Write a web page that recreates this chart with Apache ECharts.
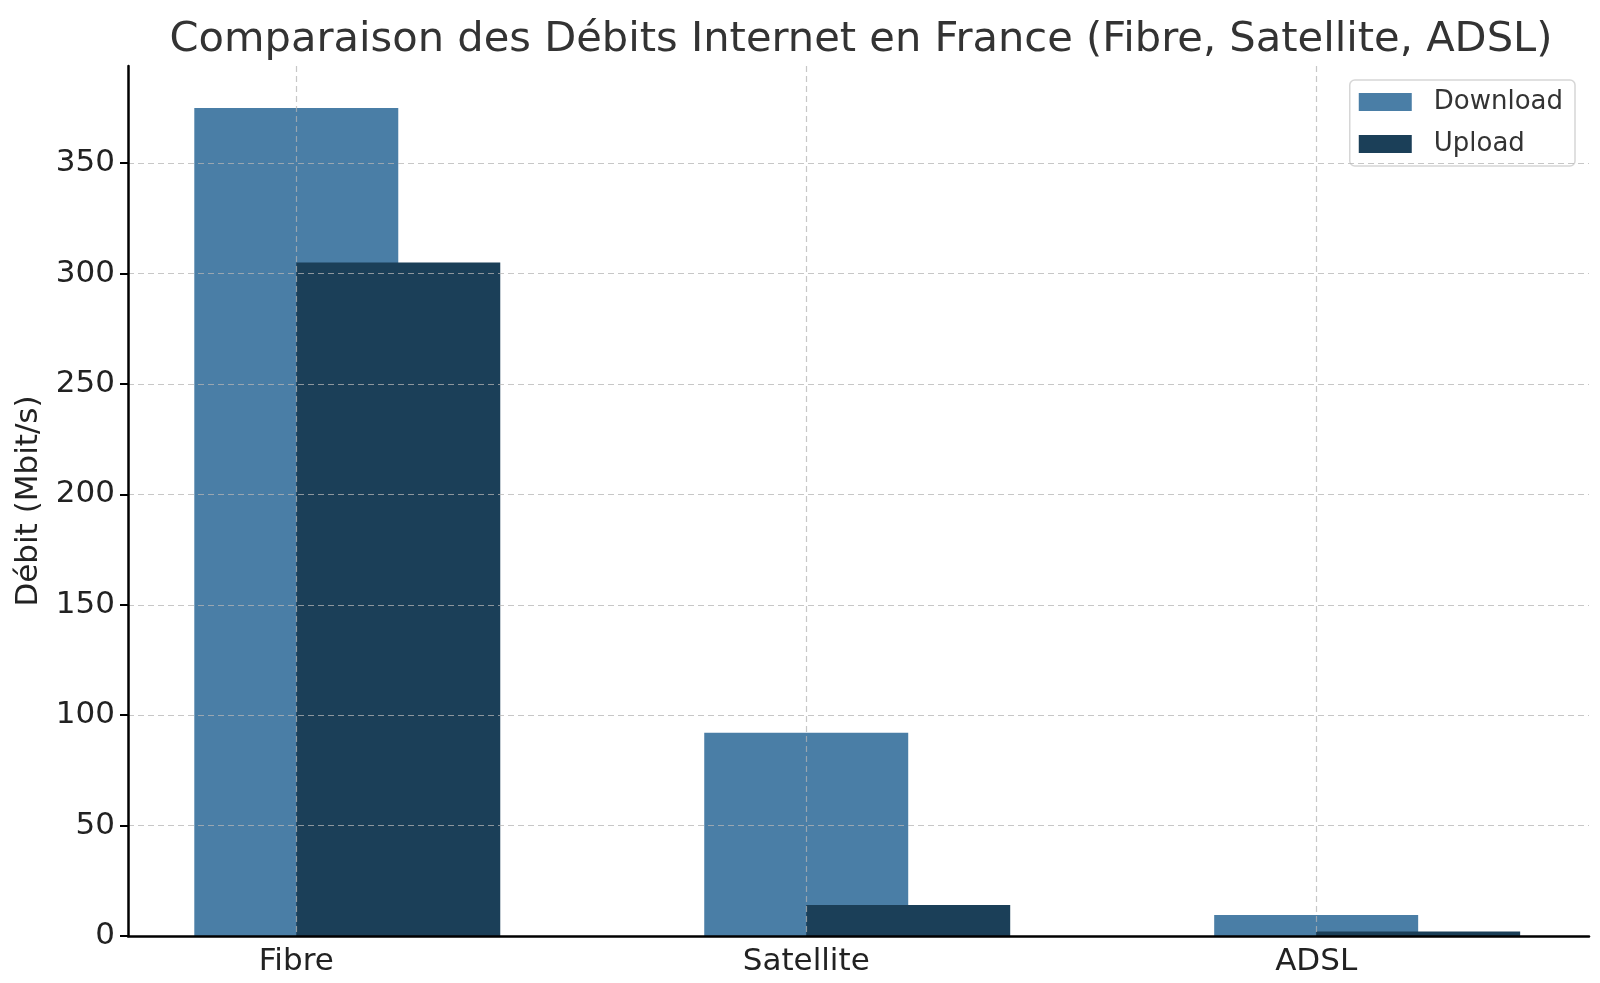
<!DOCTYPE html>
<html>
<head>
<meta charset="utf-8">
<script src="https://cdn.jsdelivr.net/npm/echarts@6/dist/echarts.min.js"></script>
<style>html,body{margin:0;padding:0;background:#fff}#c{width:1600px;height:983px}</style>
</head>
<body>
<div id="c"></div>
<script>
const categories = ['Fibre', 'Satellite', 'ADSL'];
const download = [375, 92, 9.5];
const upload = [305, 14, 2];
const yTicks = [0, 50, 100, 150, 200, 250, 300, 350];

const FONT = 'DejaVu Sans';
const BAR_W = 0.4;

function makeRender(offset) {
  return function (params, api) {
    const x = api.value(0), v = api.value(1);
    const p0 = api.coord([x + offset - BAR_W / 2, v]);
    const p1 = api.coord([x + offset + BAR_W / 2, 0]);
    return {
      type: 'rect',
      shape: { x: p0[0], y: p0[1], width: p1[0] - p0[0], height: p1[1] - p0[1] },
      style: { fill: api.visual('color') }
    };
  };
}

const chart = echarts.init(document.getElementById('c'), null, { renderer: 'canvas' });
const catIdx = categories.map((c, i) => i);
chart.setOption({
  animation: false,
  backgroundColor: '#ffffff',
  title: {
    text: 'Comparaison des Débits Internet en France (Fibre, Satellite, ADSL)',
    left: 856, top: 14, textAlign: 'center',
    textStyle: { fontFamily: FONT, fontSize: 41.6, fontWeight: 'normal', color: '#333333' }
  },
  legend: {
    orient: 'vertical', right: 25, top: 80,
    data: ['Download', 'Upload'],
    icon: 'rect', itemWidth: 53, itemHeight: 18, itemGap: 16,
    padding: [9, 12, 9, 9],
    borderColor: '#d6d6d6', borderWidth: 1.5, borderRadius: 5,
    backgroundColor: '#ffffff',
    textStyle: { fontFamily: FONT, fontSize: 26, color: '#333333', padding: [0, 0, 0, 17], lineHeight: 26 }
  },
  grid: { left: 128, right: 11, top: 66, bottom: 47, containLabel: false },
  xAxis: {
    type: 'value', min: -0.33, max: 2.535, z: 5,
    axisLine: { show: true, onZero: false, lineStyle: { color: '#000', width: 2.5 } },
    axisTick: { show: false, customValues: catIdx },
    axisLabel: {
      customValues: catIdx, margin: 10,
      formatter: v => categories[Math.round(v)],
      fontFamily: FONT, fontSize: 31, color: '#222222'
    },
    splitLine: { show: true, lineStyle: { color: 'rgba(180,180,180,0.75)', width: 1.2, type: [6, 4] } }
  },
  yAxis: {
    type: 'value', min: 0, max: 394, interval: 50, z: 5,
    name: 'Débit (Mbit/s)', nameLocation: 'middle', nameGap: 82, nameRotate: 90,
    nameTextStyle: { fontFamily: FONT, fontSize: 31, color: '#222222' },
    axisLine: { show: true, onZero: false, lineStyle: { color: '#000', width: 2.5 } },
    axisTick: { show: true, length: 8, lineStyle: { color: '#000', width: 2 }, customValues: yTicks },
    axisLabel: {
      customValues: yTicks, margin: 13,
      fontFamily: FONT, fontSize: 31, color: '#222222'
    },
    splitLine: { show: true, lineStyle: { color: 'rgba(180,180,180,0.75)', width: 1.2, type: [6, 4] } }
  },
  series: [
    {
      name: 'Download', type: 'custom', z: 1,
      itemStyle: { color: '#4a7ea6' },
      renderItem: makeRender(0),
      encode: { x: 0, y: 1 },
      data: catIdx.map(i => [i, download[i]])
    },
    {
      name: 'Upload', type: 'custom', z: 2,
      itemStyle: { color: '#1b3f58' },
      renderItem: makeRender(BAR_W / 2),
      encode: { x: 0, y: 1 },
      data: catIdx.map(i => [i, upload[i]])
    }
  ]
});
</script>
</body>
</html>
